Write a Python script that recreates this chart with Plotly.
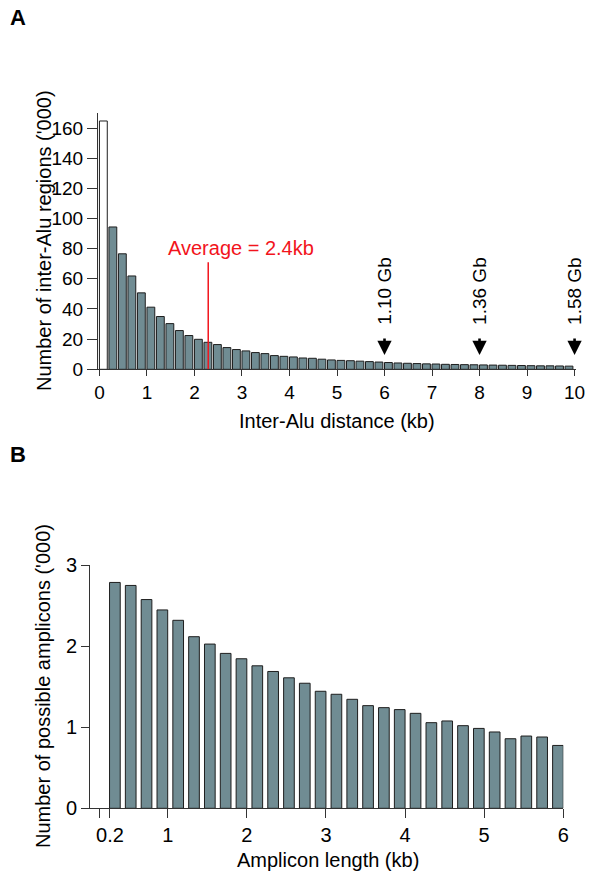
import plotly.graph_objects as go

# ---------------- Panel A data ----------------
interalu_bin_center_kb = [0.1, 0.3, 0.5, 0.7, 0.9, 1.1, 1.3, 1.5, 1.7, 1.9,
                          2.1, 2.3, 2.5, 2.7, 2.9, 3.1, 3.3, 3.5, 3.7, 3.9,
                          4.1, 4.3, 4.5, 4.7, 4.9, 5.1, 5.3, 5.5, 5.7, 5.9,
                          6.1, 6.3, 6.5, 6.7, 6.9, 7.1, 7.3, 7.5, 7.7, 7.9,
                          8.1, 8.3, 8.5, 8.7, 8.9, 9.1, 9.3, 9.5, 9.7, 9.9]
interalu_counts_thousands = [164.7, 94.4, 76.6, 61.9, 50.7, 41.2, 35.0, 30.3, 25.7, 22.4,
                             19.9, 17.9, 16.4, 14.4, 13.1, 12.2, 11.1, 10.4, 9.1, 8.6,
                             8.2, 7.5, 7.3, 6.7, 6.2, 5.9, 5.7, 5.4, 5.1, 4.8,
                             4.5, 4.2, 4.0, 3.8, 3.6, 3.5, 3.3, 3.2, 3.1, 3.0,
                             2.9, 2.8, 2.7, 2.6, 2.5, 2.4, 2.3, 2.3, 2.2, 2.1]
a_xtick_vals = [0, 1, 2, 3, 4, 5, 6, 7, 8, 9, 10]
a_ytick_vals = [0, 20, 40, 60, 80, 100, 120, 140, 160]

average_label = "Average = 2.4kb"
average_line_kb = 2.29
average_line_top = 71
average_label_pos = (2.98, 80.2)

genome_marker_kb = [6, 8, 10]
genome_marker_labels = ["1.10 Gb", "1.36 Gb", "1.58 Gb"]
genome_arrow_tip = 9.5
genome_label_center = 51.7

# ---------------- Panel B data ----------------
amplicon_upper_kb = [0.4, 0.6, 0.8, 1.0, 1.2, 1.4, 1.6, 1.8, 2.0, 2.2,
                     2.4, 2.6, 2.8, 3.0, 3.2, 3.4, 3.6, 3.8, 4.0, 4.2,
                     4.4, 4.6, 4.8, 5.0, 5.2, 5.4, 5.6, 5.8, 6.0]
amplicon_counts_thousands = [2.785, 2.748, 2.574, 2.446, 2.318, 2.116, 2.025, 1.910, 1.844, 1.757,
                             1.687, 1.609, 1.542, 1.443, 1.406, 1.344, 1.266, 1.241, 1.217, 1.171,
                             1.056, 1.077, 1.019, 0.985, 0.941, 0.858, 0.891, 0.879, 0.775]
b_xtick_vals = [0.14, 0.27, 1, 2, 3, 4, 5, 6]
b_xtick_text = ["", "0.2", "1", "2", "3", "4", "5", "6"]
b_ytick_vals = [0, 1, 2, 3]

# ---------------- styling ----------------
W, H = 600, 877
FONT = "Liberation Sans, Arial, Helvetica, sans-serif"
SLATE = "#708c93"
EDGE = "#1e1e1e"
AXIS = "#333333"
RED = "#f2141c"


def px_x(p):
    return p / W


def px_y(p):
    return 1 - p / H


fig = go.Figure()

a_colors = ["white"] + [SLATE] * (len(interalu_counts_thousands) - 1)
fig.add_trace(go.Bar(
    x=interalu_bin_center_kb, y=interalu_counts_thousands,
    width=0.165, offset=-0.1,
    marker=dict(color=a_colors, line=dict(color=EDGE, width=1)),
    xaxis="x", yaxis="y", showlegend=False, hoverinfo="x+y",
))

fig.add_trace(go.Bar(
    x=amplicon_upper_kb, y=amplicon_counts_thousands,
    width=0.135, offset=-0.135,
    marker=dict(color=SLATE, line=dict(color=EDGE, width=1)),
    xaxis="x2", yaxis="y2", showlegend=False, hoverinfo="x+y",
))

axis_common = dict(showgrid=False, zeroline=False, showline=True, linecolor=AXIS,
                   linewidth=1, ticks="outside", tickcolor=AXIS, tickwidth=1,
                   automargin=False,
                   tickfont=dict(family=FONT, size=19, color="black"))

fig.update_layout(
    template="none",
    width=W, height=H,
    margin=dict(l=0, r=0, t=0, b=0, pad=0, autoexpand=False),
    paper_bgcolor="white", plot_bgcolor="white",
    font=dict(family=FONT, color="black"),
    xaxis=dict(axis_common, domain=[px_x(98), px_x(576)], range=[-0.03, 10.03],
               tickmode="array", tickvals=a_xtick_vals, ticklen=6, anchor="y"),
    yaxis=dict(axis_common, domain=[px_y(369.3), px_y(113)], range=[0, 170],
               tickmode="array", tickvals=a_ytick_vals, ticklen=10, anchor="x"),
    xaxis2=dict(axis_common, domain=[px_x(90), px_x(563.3)], range=[0.018, 6.0],
                tickmode="array", tickvals=b_xtick_vals, ticktext=b_xtick_text,
                ticklen=9, anchor="y2"),
    yaxis2=dict(axis_common, domain=[px_y(808.3), px_y(565)], range=[0, 3],
                tickmode="array", tickvals=b_ytick_vals, ticklen=8, anchor="x2"),
)
fig.update_layout(xaxis2_tickfont_size=20, yaxis2_tickfont_size=20)

# average line
fig.add_shape(type="line", xref="x", yref="y",
              x0=average_line_kb, x1=average_line_kb, y0=0, y1=average_line_top,
              line=dict(color=RED, width=1.5))

annotations = []
annotations.append(dict(xref="x", yref="y", x=average_label_pos[0], y=average_label_pos[1],
                        text=average_label, showarrow=False, xanchor="center", yanchor="middle",
                        font=dict(family=FONT, size=20, color=RED)))

for kb, lab in zip(genome_marker_kb, genome_marker_labels):
    annotations.append(dict(xref="x", yref="y", x=kb, y=genome_arrow_tip, text="",
                            showarrow=True, arrowhead=2, arrowsize=1.1, arrowwidth=2.6,
                            arrowcolor="black", ax=0, ay=-18))
    annotations.append(dict(xref="x", yref="y", x=kb, y=genome_label_center, text=lab,
                            showarrow=False, textangle=-90, xanchor="center", yanchor="middle",
                            font=dict(family=FONT, size=19, color="black")))

# axis titles
annotations.append(dict(xref="paper", yref="paper", x=px_x(337), y=px_y(421),
                        text="Inter-Alu distance (kb)", showarrow=False,
                        xanchor="center", yanchor="middle", font=dict(family=FONT, size=20)))
annotations.append(dict(xref="paper", yref="paper", x=px_x(44), y=px_y(241),
                        text="Number of inter-Alu regions ('000)", showarrow=False, textangle=-90,
                        xanchor="center", yanchor="middle", font=dict(family=FONT, size=20)))
annotations.append(dict(xref="paper", yref="paper", x=px_x(328), y=px_y(860),
                        text="Amplicon length (kb)", showarrow=False,
                        xanchor="center", yanchor="middle", font=dict(family=FONT, size=20)))
annotations.append(dict(xref="paper", yref="paper", x=px_x(43), y=px_y(686),
                        text="Number of possible amplicons ('000)", showarrow=False, textangle=-90,
                        xanchor="center", yanchor="middle", font=dict(family=FONT, size=20)))

# panel letters
annotations.append(dict(xref="paper", yref="paper", x=px_x(18), y=px_y(18),
                        text="<b>A</b>", showarrow=False, xanchor="center", yanchor="middle",
                        font=dict(family=FONT, size=22)))
annotations.append(dict(xref="paper", yref="paper", x=px_x(18), y=px_y(454),
                        text="<b>B</b>", showarrow=False, xanchor="center", yanchor="middle",
                        font=dict(family=FONT, size=22)))

fig.update_layout(annotations=annotations)

fig.write_html("out.html",
               config={"displayModeBar": False},
               post_script="document.body.style.margin='0';document.body.style.overflow='hidden';")
